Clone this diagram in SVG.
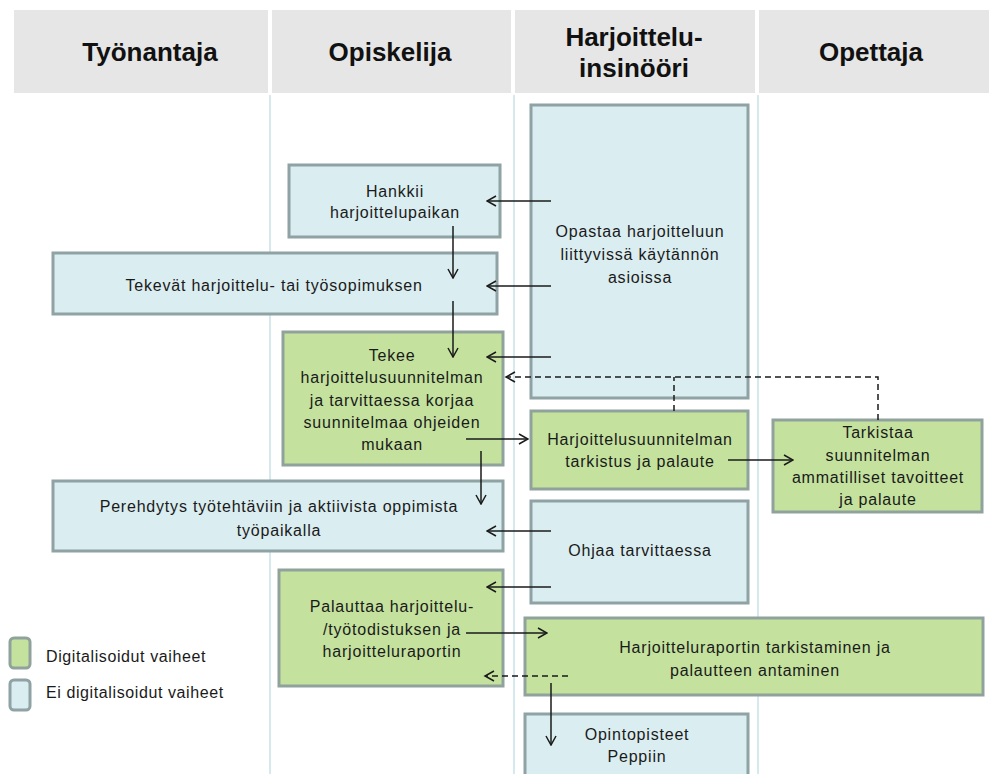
<svg xmlns="http://www.w3.org/2000/svg" width="989" height="774" viewBox="0 0 989 774">
<defs>
<style>
.hdr{fill:#e6e6e6}
.hdrt{font-family:"Liberation Sans",Arial,sans-serif;font-weight:bold;font-size:26px;fill:#111;text-anchor:middle}
.lane{stroke:#c8e2e9;stroke-width:1.5}
.blue{fill:#daedf0;stroke:#8fa2a4;stroke-width:3}
.green{fill:#c4e29e;stroke:#8fa29c;stroke-width:3}
.t{font-family:"Liberation Sans",Arial,sans-serif;font-size:16px;letter-spacing:0.8px;fill:#1a1a1a;text-anchor:middle}
.lt{font-family:"Liberation Sans",Arial,sans-serif;font-size:16px;letter-spacing:0.6px;fill:#1a1a1a}
.a{stroke:#1a1a1a;stroke-width:1.5;fill:none;marker-end:url(#ah)}
.d{stroke:#1a1a1a;stroke-width:1.5;fill:none;stroke-dasharray:6 4}
</style>
<marker id="ah" viewBox="0 0 12 12" refX="11" refY="6" markerWidth="12" markerHeight="12" markerUnits="userSpaceOnUse" orient="auto">
<path d="M2,1 L11,6 L2,11" fill="none" stroke="#1a1a1a" stroke-width="1.5"/>
</marker>
</defs>
<rect width="989" height="774" fill="#fff"/>
<g id="header">
<rect class="hdr" x="14" y="10" width="254" height="83"/>
<rect class="hdr" x="272" y="10" width="239" height="83"/>
<rect class="hdr" x="515" y="10" width="240" height="83"/>
<rect class="hdr" x="759" y="10" width="230" height="83"/>
<text class="hdrt" x="150" y="61">Työnantaja</text>
<text class="hdrt" x="390" y="61">Opiskelija</text>
<text class="hdrt" x="634" y="46">Harjoittelu-</text>
<text class="hdrt" x="634" y="77">insinööri</text>
<text class="hdrt" x="871" y="61">Opettaja</text>
</g>
<g id="lanes">
<line class="lane" x1="270" y1="95" x2="270" y2="774"/>
<line class="lane" x1="514" y1="95" x2="514" y2="774"/>
<line class="lane" x1="758" y1="95" x2="758" y2="774"/>
</g>
<g id="n-opastaa">
<rect class="blue" x="531" y="105" width="217" height="293"/>
<text class="t" x="640" y="237">Opastaa harjoitteluun</text>
<text class="t" x="640" y="260">liittyvissä käytännön</text>
<text class="t" x="640" y="283">asioissa</text>
</g>
<g id="n-hankkii">
<rect class="blue" x="289" y="165" width="211" height="72"/>
<text class="t" x="395" y="197">Hankkii</text>
<text class="t" x="395" y="218">harjoittelupaikan</text>
</g>
<g id="n-tekevat">
<rect class="blue" x="53" y="253" width="444" height="61"/>
<text class="t" x="274" y="291">Tekevät harjoittelu- tai työsopimuksen</text>
</g>
<g id="n-tekee">
<rect class="green" x="283" y="332" width="220" height="133"/>
<text class="t" x="392" y="361">Tekee</text>
<text class="t" x="392" y="383">harjoittelusuunnitelman</text>
<text class="t" x="392" y="406">ja tarvittaessa korjaa</text>
<text class="t" x="392" y="428">suunnitelmaa ohjeiden</text>
<text class="t" x="392" y="450">mukaan</text>
</g>
<g id="n-tarkistus">
<rect class="green" x="531" y="411" width="217" height="78"/>
<text class="t" x="640" y="445">Harjoittelusuunnitelman</text>
<text class="t" x="640" y="467">tarkistus ja palaute</text>
</g>
<g id="n-tarkistaa">
<rect class="green" x="773" y="420" width="209" height="92"/>
<text class="t" x="878" y="438">Tarkistaa</text>
<text class="t" x="878" y="461">suunnitelman</text>
<text class="t" x="878" y="483">ammatilliset tavoitteet</text>
<text class="t" x="878" y="505">ja palaute</text>
</g>
<g id="n-perehdytys">
<rect class="blue" x="53" y="481" width="450" height="70"/>
<text class="t" x="279" y="512">Perehdytys työtehtäviin ja aktiivista oppimista</text>
<text class="t" x="279" y="536">työpaikalla</text>
</g>
<g id="n-ohjaa">
<rect class="blue" x="531" y="501" width="217" height="102"/>
<text class="t" x="640" y="556">Ohjaa tarvittaessa</text>
</g>
<g id="n-palauttaa">
<rect class="green" x="279" y="570" width="224" height="116"/>
<text class="t" x="392" y="612">Palauttaa harjoittelu-</text>
<text class="t" x="392" y="635">/työtodistuksen ja</text>
<text class="t" x="392" y="657">harjoitteluraportin</text>
</g>
<g id="n-raportti">
<rect class="green" x="525" y="618" width="458" height="77"/>
<text class="t" x="755" y="653">Harjoitteluraportin tarkistaminen ja</text>
<text class="t" x="755" y="676">palautteen antaminen</text>
</g>
<g id="n-opintopisteet">
<rect class="blue" x="525" y="714" width="223" height="62"/>
<text class="t" x="637" y="740">Opintopisteet</text>
<text class="t" x="637" y="762">Peppiin</text>
</g>
<g id="legend">
<rect class="green" x="10" y="638" width="20" height="30" rx="4"/>
<text class="lt" x="46" y="662">Digitalisoidut vaiheet</text>
<rect class="blue" x="10" y="680" width="20" height="30" rx="4"/>
<text class="lt" x="46" y="698">Ei digitalisoidut vaiheet</text>
</g>
<g id="connectors">
<line class="a" x1="551" y1="201" x2="487" y2="201"/>
<line class="a" x1="551" y1="286" x2="487" y2="286"/>
<line class="a" x1="551" y1="357" x2="487" y2="357"/>
<line class="a" x1="453" y1="226" x2="453" y2="278"/>
<line class="a" x1="453" y1="301" x2="453" y2="357"/>
<polyline class="d" points="878,420 878,377 506,377"/>
<path d="M515,372 L506,377 L515,382" fill="none" stroke="#1a1a1a" stroke-width="1.5"/>
<line class="d" x1="674" y1="411" x2="674" y2="377"/>
<line class="a" x1="466" y1="439" x2="528" y2="439"/>
<line class="a" x1="728" y1="460" x2="793" y2="460"/>
<line class="a" x1="481" y1="451" x2="481" y2="504"/>
<line class="a" x1="551" y1="531" x2="487" y2="531"/>
<line class="a" x1="551" y1="587" x2="487" y2="587"/>
<line class="a" x1="466" y1="633" x2="547" y2="633"/>
<line class="d" x1="568" y1="676" x2="486" y2="676"/>
<path d="M494,671 L485,676 L494,681" fill="none" stroke="#1a1a1a" stroke-width="1.5"/>
<line class="a" x1="551" y1="683" x2="551" y2="745"/>
</g>
</svg>
